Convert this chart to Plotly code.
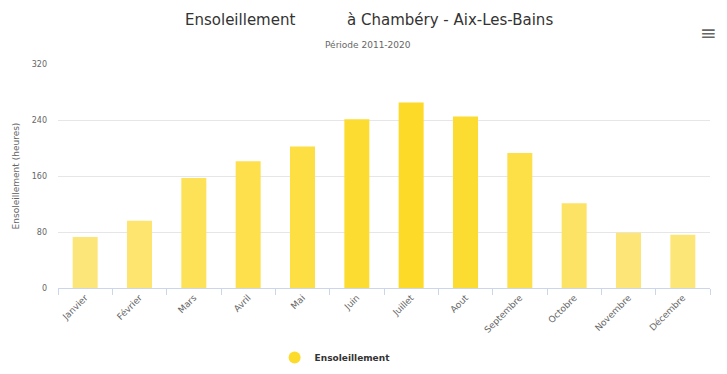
import plotly.graph_objects as go

months = [
    "Janvier", "Février", "Mars", "Avril", "Mai", "Juin",
    "Juillet", "Aout", "Septembre", "Octobre", "Novembre", "Décembre",
]
sunshine_hours = [73, 96, 157, 181, 202, 241, 265, 245, 193, 121, 79, 76]
y_ticks = [0, 80, 160, 240, 320]

_FONT = "DejaVu Sans, Lucida Grande, Arial, sans-serif"
_TEXT = "#666666"
_GRID = "#e6e6e6"
_AXIS = "#ccd6eb"

fig = go.Figure()
fig.add_bar(
    x=months,
    y=sunshine_hours,
    width=0.46,
    marker={
        "color": sunshine_hours,
        "colorscale": [[0.0, "#fde77f"], [1.0, "#fdda26"]],
        "cmin": 60,
        "cmax": 270,
        "line": {"width": 0},
    },
    showlegend=False,
    hoverinfo="x+y",
)
# legend entry drawn as a circle, like the original
fig.add_scatter(
    x=[None],
    y=[None],
    mode="markers",
    name="<b>Ensoleillement</b>",
    marker={"color": "#fddb2a", "size": 10, "symbol": "circle"},
)

# page body keeps its default 8px margin, so the figure is 16px smaller
fig.update_layout(
    width=711,
    height=358,
    margin={"l": 50, "r": 9, "t": 56, "b": 78, "autoexpand": False},
    paper_bgcolor="white",
    plot_bgcolor="white",
    font={"family": _FONT, "color": _TEXT, "size": 9},
    legend={
        "orientation": "h",
        "x": 0.425,
        "xanchor": "center",
        "y": -0.31,
        "yanchor": "middle",
        "font": {"size": 9, "color": "#333333"},
        "itemsizing": "constant",
    },
)
fig.update_xaxes(
    type="category",
    tickangle=-45,
    tickfont={"size": 9, "color": _TEXT},
    showgrid=False,
    showline=True,
    linecolor=_AXIS,
    linewidth=1,
    ticks="outside",
    tickson="boundaries",
    ticklen=6,
    tickcolor=_AXIS,
    automargin=False,
)
fig.update_yaxes(
    range=[0, 320],
    tickvals=y_ticks,
    tickfont={"size": 8, "color": _TEXT},
    gridcolor=_GRID,
    zeroline=False,
    showline=False,
    ticks="",
    ticklabelstandoff=10,
    automargin=False,
    title={"text": "Ensoleillement (heures)", "font": {"size": 9, "color": _TEXT}, "standoff": 10},
)

fig.add_annotation(
    text="Ensoleillement",
    xref="paper", yref="paper", x=0.192, y=1.196,
    xanchor="left", yanchor="middle", showarrow=False,
    font={"size": 15, "color": "#333333"},
)
fig.add_annotation(
    text="à Chambéry - Aix-Les-Bains",
    xref="paper", yref="paper", x=0.44, y=1.196,
    xanchor="left", yanchor="middle", showarrow=False,
    font={"size": 15, "color": "#333333"},
)
fig.add_annotation(
    text="Période 2011-2020",
    xref="paper", yref="paper", x=0.475, y=1.085,
    xanchor="center", yanchor="middle", showarrow=False,
    font={"size": 9, "color": _TEXT},
)
fig.add_annotation(
    text="≡",
    xref="paper", yref="paper", x=0.998, y=1.138,
    xanchor="center", yanchor="middle", showarrow=False,
    font={"size": 20, "color": "#666666"},
)

fig.write_html("out.html", config={"displayModeBar": False})
